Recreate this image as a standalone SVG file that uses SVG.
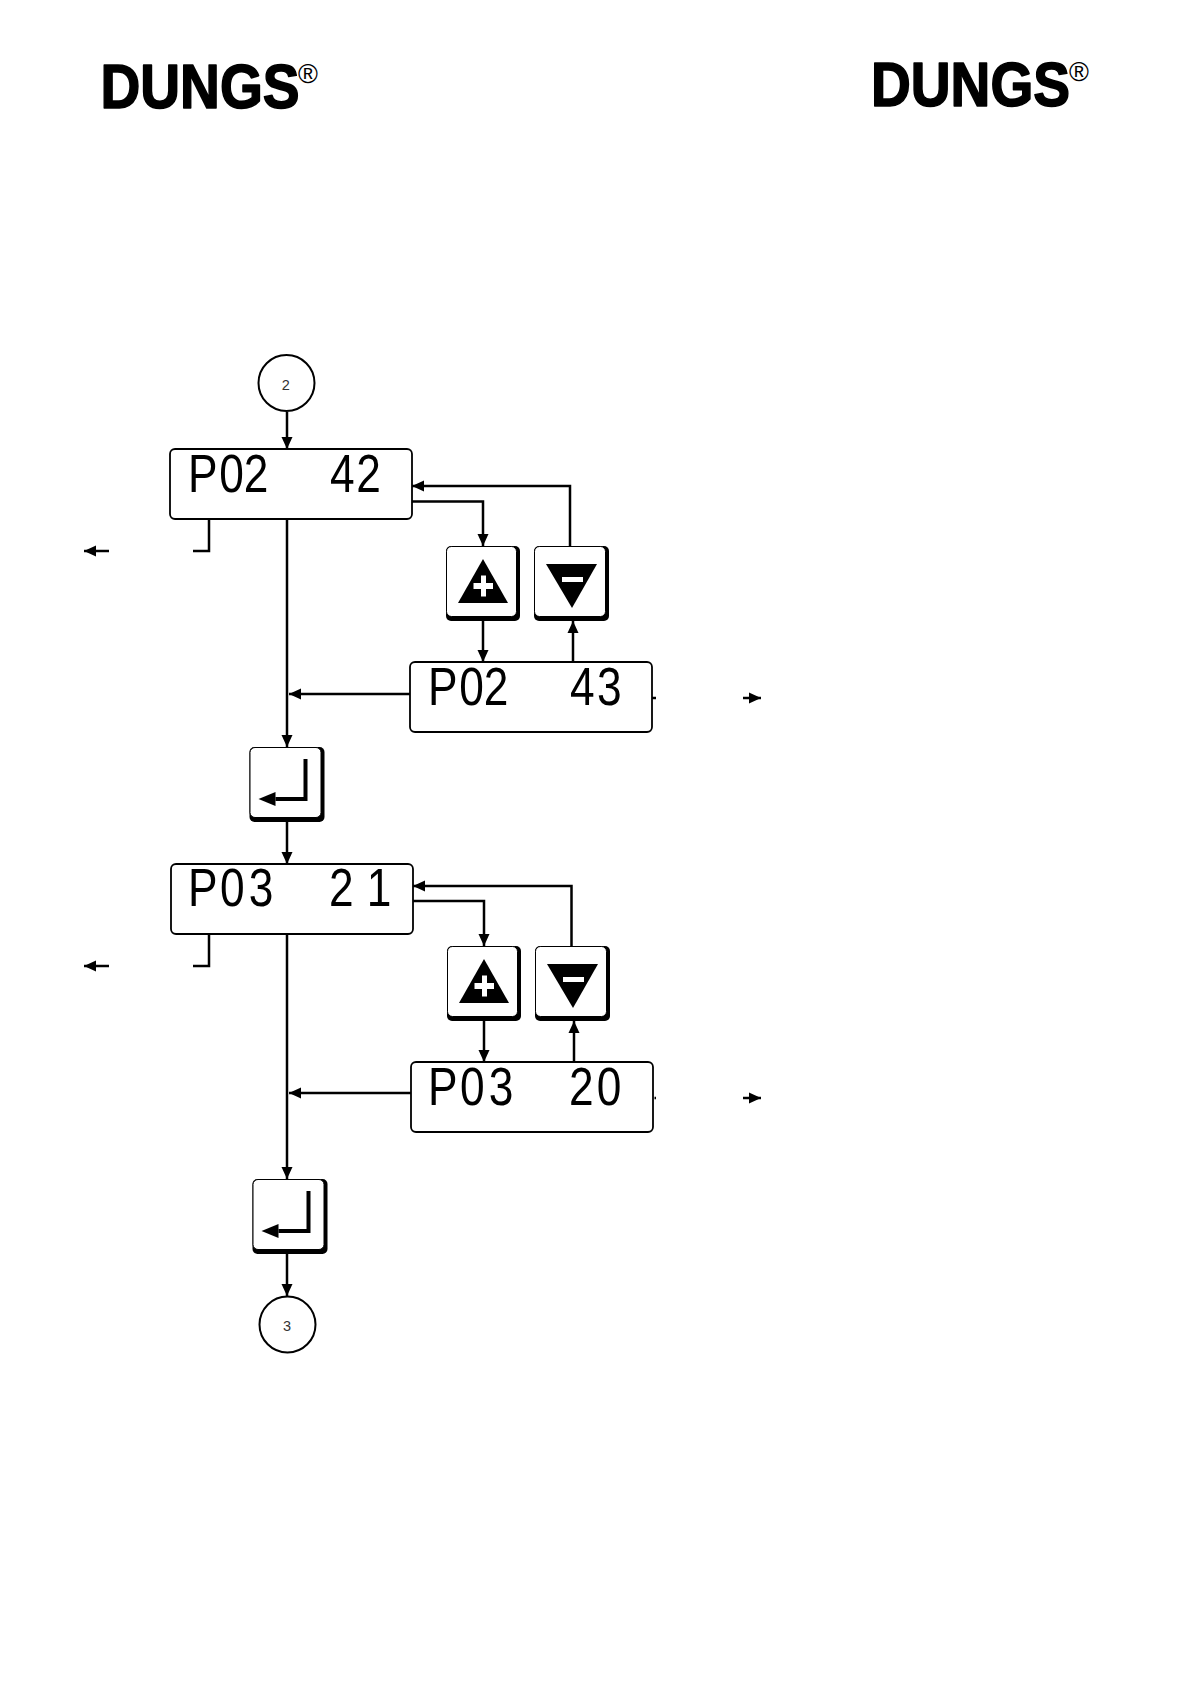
<svg xmlns="http://www.w3.org/2000/svg" width="1191" height="1684" viewBox="0 0 1191 1684">
<style>
text{font-family:"Liberation Sans",Arial,sans-serif;fill:#000}
.logo{font-size:63px;font-weight:700;stroke:#000;stroke-width:1.6px;stroke-linejoin:round}
.reg{font-size:27px}
.seg{font-size:54px}
.num{font-size:14.500px;fill:#333}
.box{fill:#fff;stroke:#000;stroke-width:1.8}
.cir{fill:#fff;stroke:#000;stroke-width:2}
.ln{fill:none;stroke:#000;stroke-width:2.500}
.sh{fill:#000}
.cap{fill:#fff;stroke:#000;stroke-width:1}
</style>
<defs>
<marker id="a" markerUnits="userSpaceOnUse" markerWidth="13" markerHeight="12" refX="12" refY="6" orient="auto"><path d="M0 0.500L12 6L0 11.500Z"/></marker>
<g id="plus"><rect x="446" y="546" width="74" height="75" rx="5" class="sh"/><rect x="446.500" y="546.500" width="70" height="70" rx="5" class="cap"/><path d="M483 559L508 603H458Z"/><path d="M481 583H473.500V589H481V596.500H486V589H493V583H486V575.500H481Z" fill="#fff"/></g>
<g id="minus"><rect x="534" y="546" width="75" height="75" rx="5" class="sh"/><rect x="534.500" y="546.500" width="71" height="70" rx="5" class="cap"/><path d="M546 564H597L572 608Z"/><rect x="562" y="577" width="21" height="5" fill="#fff"/></g>
<g id="enter"><rect x="0" y="0" width="75" height="75" rx="5" class="sh"/><rect x="0.500" y="0.500" width="71" height="70" rx="5" class="cap"/><path d="M56 12V52H26" fill="none" stroke="#000" stroke-width="4"/><path d="M9 52L26 45V59Z"/></g>
</defs>
<g id="logo-left"><text class="logo" transform="translate(100.500 107.500) scale(.875 1)">DUNGS</text><text class="reg" x="298" y="83">®</text></g>
<g id="logo-right"><text class="logo" transform="translate(871 105.500) scale(.875 1)">DUNGS</text><text class="reg" x="1069" y="81">®</text></g>

<g id="connectors">
<path class="ln" marker-end="url(#a)" d="M287 412V449"/>
<path class="ln" marker-end="url(#a)" d="M287 519V747"/>
<path class="ln" d="M209 519V551H193"/>
<path class="ln" marker-end="url(#a)" d="M109 551H84"/>
<path class="ln" marker-end="url(#a)" d="M412 501.500H483V546"/>
<path class="ln" marker-end="url(#a)" d="M570 546V486H412"/>
<path class="ln" marker-end="url(#a)" d="M483 621V662"/>
<path class="ln" marker-end="url(#a)" d="M573 662V621"/>
<path class="ln" marker-end="url(#a)" d="M410 694H289"/>
<path class="ln" d="M652 698H656"/>
<path class="ln" marker-end="url(#a)" d="M743 698H761"/>
<path class="ln" marker-end="url(#a)" d="M287 822V864"/>
<path class="ln" marker-end="url(#a)" d="M287 934V1179"/>
<path class="ln" d="M209 934V966H193"/>
<path class="ln" marker-end="url(#a)" d="M109 966H84"/>
<path class="ln" marker-end="url(#a)" d="M413 901H484V946"/>
<path class="ln" marker-end="url(#a)" d="M571.500 946V886H413"/>
<path class="ln" marker-end="url(#a)" d="M484 1021V1062"/>
<path class="ln" marker-end="url(#a)" d="M574 1062V1021"/>
<path class="ln" marker-end="url(#a)" d="M411 1093H289"/>
<path class="ln" d="M654.500 1098H656"/>
<path class="ln" marker-end="url(#a)" d="M743 1098H761"/>
<path class="ln" marker-end="url(#a)" d="M287 1254V1296"/>
</g>

<g id="start"><circle cx="286.500" cy="383" r="28" class="cir"/><text class="num" x="285.700" y="390" text-anchor="middle">2</text></g>
<g id="end"><circle cx="287.500" cy="1324.500" r="28" class="cir"/><text class="num" x="287" y="1331" text-anchor="middle">3</text></g>

<g id="d1"><rect x="170" y="449" width="242" height="70" rx="5" class="box"/><text class="seg" transform="translate(188 492) scale(.82 1)" x="0 38 68">P02</text><text class="seg" transform="translate(330 492) scale(.82 1)" x="0 32">42</text></g>
<g id="d2"><rect x="410" y="662" width="242" height="70" rx="5" class="box"/><text class="seg" transform="translate(428 705) scale(.82 1)" x="0 38 68">P02</text><text class="seg" transform="translate(570 705) scale(.82 1)" x="0 33">43</text></g>
<g id="d3"><rect x="171" y="864" width="242" height="70" rx="5" class="box"/><text class="seg" transform="translate(188 906) scale(.82 1)" x="0 39 74">P03</text><text class="seg" transform="translate(329 906) scale(.82 1)" x="0 46">21</text></g>
<g id="d4"><rect x="411" y="1062" width="242" height="70" rx="5" class="box"/><text class="seg" transform="translate(428 1105) scale(.82 1)" x="0 39 74">P03</text><text class="seg" transform="translate(569 1105) scale(.82 1)" x="0 34">20</text></g>

<use id="key-plus-1" href="#plus"/>
<use id="key-minus-1" href="#minus"/>
<use id="key-enter-1" href="#enter" x="249.500" y="747"/>
<use id="key-plus-2" href="#plus" x="1" y="400"/>
<use id="key-minus-2" href="#minus" x="1" y="400"/>
<use id="key-enter-2" href="#enter" x="252.500" y="1179"/>
</svg>
